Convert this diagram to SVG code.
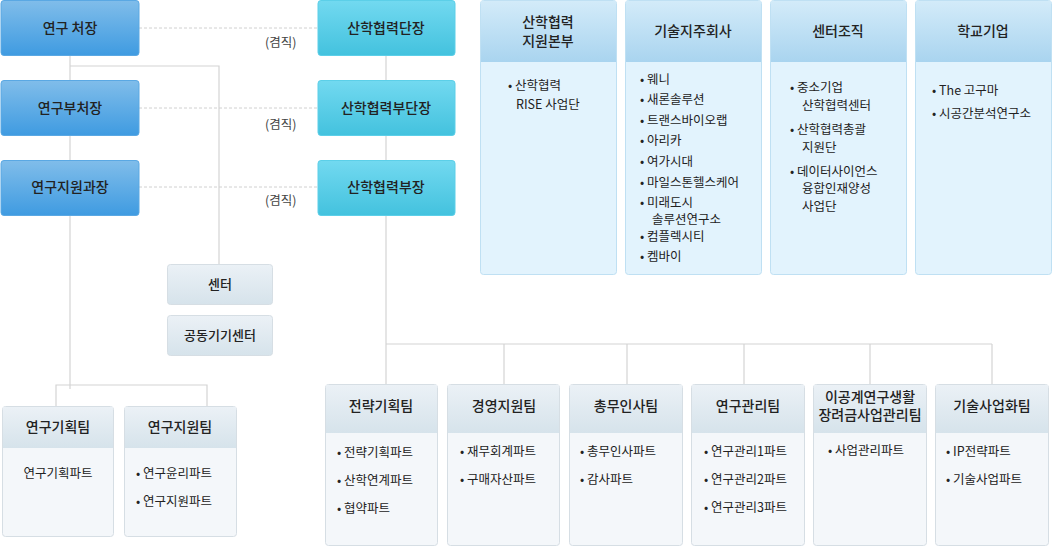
<svg xmlns="http://www.w3.org/2000/svg" width="1052" height="546" viewBox="0 0 1052 546">
<defs>
<linearGradient id="gb" x1="0" y1="0" x2="0" y2="1"><stop offset="0" stop-color="#80bdea"/><stop offset="1" stop-color="#3f9be1"/></linearGradient>
<linearGradient id="gc" x1="0" y1="0" x2="0" y2="1"><stop offset="0" stop-color="#72d9f0"/><stop offset="1" stop-color="#43c2de"/></linearGradient>
<linearGradient id="gp" x1="0" y1="0" x2="0" y2="1"><stop offset="0" stop-color="#d3ebf9"/><stop offset="1" stop-color="#a9d4ef"/></linearGradient>
<linearGradient id="gt" x1="0" y1="0" x2="0" y2="1"><stop offset="0" stop-color="#ebf1f6"/><stop offset="1" stop-color="#d6e3eb"/></linearGradient>
</defs>
<style>
text{font-family:"Noto Sans CJK KR","Noto Sans",sans-serif;fill:#222}
.h{font-size:14px;font-weight:500;text-anchor:middle}
.i{font-size:12.5px}
.c{text-anchor:middle}
.k{font-size:12.5px;fill:#444}
.ln{stroke:#d4d4d4;stroke-width:1.2;fill:none}
.dl{stroke:#d0d0d0;stroke-width:1;stroke-dasharray:3 2;fill:none}
.pb{fill:#e2f3fd;stroke:#bfe0f3}
.tb{fill:#f4f7fa;stroke:#d6dee4}
</style>
<g id="connectors">
<path class="ln" d="M70 55V389M70 66H219V264M56 406V385H207V406"/>
<path class="ln" d="M386 55V344M386 344H992M386 344V384M504 344V384M627 344V384M744 344V384M870 344V384M992 344V384"/>
<path class="dl" d="M139 28H318M139 108H318M139 187H318"/>
<text class="k" x="265" y="47">(겸직)</text>
<text class="k" x="265" y="129">(겸직)</text>
<text class="k" x="265" y="205">(겸직)</text>
</g>
<g id="n1"><rect x="1" y="0.5" width="138" height="55" rx="3" fill="url(#gb)" stroke="#5aa8e3"/><text class="h" x="70" y="33">연구 처장</text></g>
<g id="n2"><rect x="1" y="80.5" width="138" height="55" rx="3" fill="url(#gb)" stroke="#5aa8e3"/><text class="h" x="70" y="113">연구부처장</text></g>
<g id="n3"><rect x="1" y="160.5" width="138" height="55" rx="3" fill="url(#gb)" stroke="#5aa8e3"/><text class="h" x="70" y="192">연구지원과장</text></g>
<g id="n4"><rect x="318" y="0.5" width="137" height="55" rx="3" fill="url(#gc)" stroke="#5ccfe8"/><text class="h" x="386" y="33">산학협력단장</text></g>
<g id="n5"><rect x="318" y="80.5" width="137" height="55" rx="3" fill="url(#gc)" stroke="#5ccfe8"/><text class="h" x="386" y="113">산학협력부단장</text></g>
<g id="n6"><rect x="318" y="160.5" width="137" height="55" rx="3" fill="url(#gc)" stroke="#5ccfe8"/><text class="h" x="386" y="192">산학협력부장</text></g>
<g id="c1"><rect x="167.5" y="264.5" width="105" height="40" rx="3" fill="url(#gt)" stroke="#d6dee4"/><text class="h" x="220" y="289" style="font-size:13px">센터</text></g>
<g id="c2"><rect x="167.5" y="315.5" width="105" height="40" rx="3" fill="url(#gt)" stroke="#d6dee4"/><text class="h" x="220" y="340" style="font-size:13px">공동기기센터</text></g>
<g id="p1"><rect class="pb" x="480.5" y="0.5" width="136" height="274" rx="3"/><path d="M481 1H616V62H481Z" fill="url(#gp)"/><text class="h" x="548" y="27">산학협력</text><text class="h" x="548" y="46">지원본부</text>
<text class="i" x="508" y="90">•  산학협력</text><text class="i" x="516" y="109">RISE 사업단</text></g>
<g id="p2"><rect class="pb" x="625.5" y="0.5" width="136" height="274" rx="3"/><path d="M626 1H761V62H626Z" fill="url(#gp)"/><text class="h" x="693" y="36">기술지주회사</text>
<g class="i"><text x="640" y="84">•  웨니</text><text x="640" y="104">•  새론솔루션</text><text x="640" y="125">•  트랜스바이오랩</text><text x="640" y="145">•  아리카</text><text x="640" y="166">•  여가시대</text><text x="640" y="187">•  마일스톤헬스케어</text><text x="640" y="207">•  미래도시</text><text x="652" y="224">솔루션연구소</text><text x="640" y="241">•  컴플렉시티</text><text x="640" y="261">•  켐바이</text><text x="640" y="282" dy="-20"> </text><text x="640" y="260" dy="0" visibility="hidden">.</text></g>
<text class="i" x="640" y="261" visibility="hidden">.</text></g>
<g id="p2b" class="i"><text x="640" y="282" visibility="hidden">.</text></g>
<g id="p3"><rect class="pb" x="770.5" y="0.5" width="136" height="274" rx="3"/><path d="M771 1H906V62H771Z" fill="url(#gp)"/><text class="h" x="838" y="36">센터조직</text>
<g class="i"><text x="790" y="92">•  중소기업</text><text x="802" y="110">산학협력센터</text><text x="790" y="134">•  산학협력총괄</text><text x="802" y="152">지원단</text><text x="790" y="176">•  데이터사이언스</text><text x="802" y="193">융합인재양성</text><text x="802" y="211">사업단</text></g></g>
<g id="p4"><rect class="pb" x="915.5" y="0.5" width="136" height="274" rx="3"/><path d="M916 1H1051V62H916Z" fill="url(#gp)"/><text class="h" x="983" y="36">학교기업</text>
<g class="i"><text x="932" y="95">•  The 고구마</text><text x="932" y="118">•  시공간분석연구소</text></g></g>
<g id="t1"><rect class="tb" x="2.5" y="406.5" width="111" height="130" rx="3"/><path d="M3 407H113V448H3Z" fill="url(#gt)"/><text class="h" x="58" y="432">연구기획팀</text><text class="i c" x="58" y="478">연구기획파트</text></g>
<g id="t2"><rect class="tb" x="124.5" y="406.5" width="112" height="130" rx="3"/><path d="M125 407H236V448H125Z" fill="url(#gt)"/><text class="h" x="180" y="432">연구지원팀</text><text class="i" x="136" y="478">•  연구윤리파트</text><text class="i" x="136" y="506">•  연구지원파트</text></g>
<g id="t3"><rect class="tb" x="325.5" y="384.5" width="112" height="161" rx="3"/><path d="M326 385H437V433H326Z" fill="url(#gt)"/><text class="h" x="381" y="411">전략기획팀</text><text class="i" x="337" y="457">•  전략기획파트</text><text class="i" x="337" y="485">•  산학연계파트</text><text class="i" x="337" y="513">•  협약파트</text></g>
<g id="t4"><rect class="tb" x="447.5" y="384.5" width="112" height="161" rx="3"/><path d="M448 385H559V433H448Z" fill="url(#gt)"/><text class="h" x="504" y="411">경영지원팀</text><text class="i" x="460" y="456">•  재무회계파트</text><text class="i" x="460" y="484">•  구매자산파트</text></g>
<g id="t5"><rect class="tb" x="569.5" y="384.5" width="113" height="161" rx="3"/><path d="M570 385H682V433H570Z" fill="url(#gt)"/><text class="h" x="626" y="411">총무인사팀</text><text class="i" x="580" y="456">•  총무인사파트</text><text class="i" x="580" y="484">•  감사파트</text></g>
<g id="t6"><rect class="tb" x="691.5" y="384.5" width="113" height="161" rx="3"/><path d="M692 385H804V433H692Z" fill="url(#gt)"/><text class="h" x="748" y="411">연구관리팀</text><text class="i" x="704" y="456">•  연구관리1파트</text><text class="i" x="704" y="484">•  연구관리2파트</text><text class="i" x="704" y="512">•  연구관리3파트</text></g>
<g id="t7"><rect class="tb" x="813.5" y="384.5" width="113" height="161" rx="3"/><path d="M814 385H926V433H814Z" fill="url(#gt)"/><text class="h" x="870" y="402">이공계연구생활</text><text class="h" x="870" y="420">장려금사업관리팀</text><text class="i" x="828" y="455">•  사업관리파트</text></g>
<g id="t8"><rect class="tb" x="935.5" y="384.5" width="113" height="161" rx="3"/><path d="M936 385H1048V433H936Z" fill="url(#gt)"/><text class="h" x="992" y="411">기술사업화팀</text><text class="i" x="946" y="456">•  IP전략파트</text><text class="i" x="946" y="484">•  기술사업파트</text></g>
</svg>
